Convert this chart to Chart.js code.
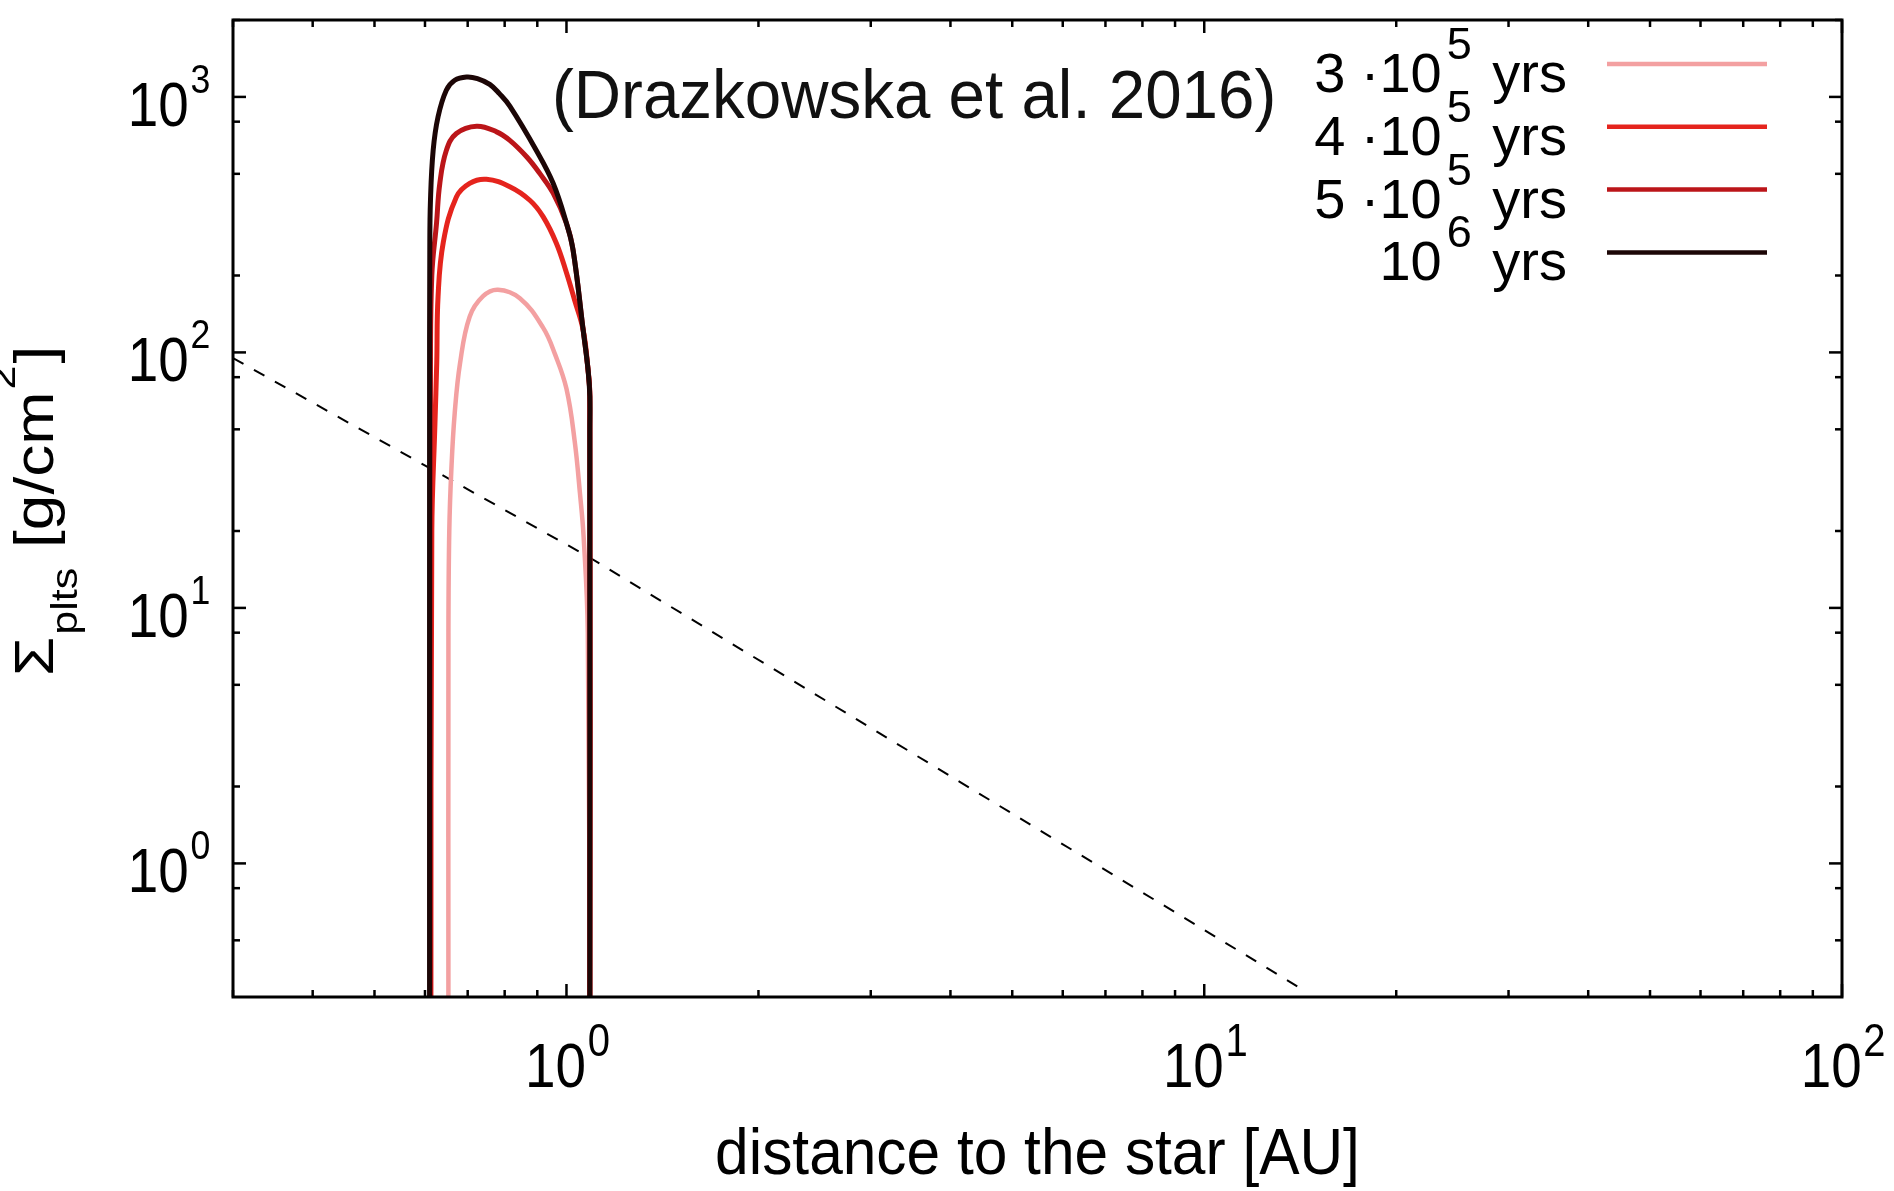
<!DOCTYPE html>
<html>
<head>
<meta charset="utf-8">
<title>Sigma plts vs distance</title>
<script src="https://cdn.jsdelivr.net/npm/chart.js@4.4.0/dist/chart.umd.min.js"></script>
<style>
    html, body { margin: 0; padding: 0; background: #fff; }
    #wrap { width: 1894px; height: 1191px; }
</style>
</head>
<body>
<div id="wrap"><canvas id="sigmaChart" width="1894" height="1191"></canvas></div>
<script>
"use strict";

//--series labels (^ = superscript, _ = subscript)--
const seriesLabels = ['3 ·10^5 yrs', '4 ·10^5 yrs', '5 ·10^5 yrs', '10^6 yrs'];
const seriesColors = ['#f3a0a1', '#e5241d', '#bb1519', '#1c0606'];

//3·10^5 yrs
const pinkX = [0.653, 0.653, 0.655, 0.66, 0.668, 0.681, 0.705, 0.74, 0.781, 0.845, 0.919, 0.96, 1.0, 1.03, 1.05, 1.064, 1.08, 1.088];
const pinkY = [0.2, 8, 20, 35, 57.9, 90.8, 138, 166, 176, 163, 125, 98, 72, 45, 28, 18.9, 8, 0.2];

//4·10^5 yrs
const redX = [0.613, 0.615, 0.622, 0.626, 0.629, 0.641, 0.672, 0.705, 0.749, 0.815, 0.876, 0.919, 0.9645, 1.0, 1.03, 1.062, 1.081, 1.088, 1.088];
const redY = [0.2, 20, 52.9, 90.8, 165.4, 270, 406, 459, 476, 445, 394, 340, 267, 205, 160, 122.6, 85.5, 67.2, 0.2];

//5·10^5 yrs
const darkX = [0.612, 0.612, 0.615, 0.6255, 0.633, 0.648, 0.672, 0.723, 0.777, 0.815, 0.866, 0.908, 0.953, 1.0, 1.024, 1.062, 1.081, 1.088, 1.088];
const darkY = [0.2, 80, 200, 320, 459, 617, 719, 768, 730, 676, 583, 502, 420, 320, 252, 122.6, 85.5, 67.2, 0.2];

//10^6 yrs
const blackX = [0.610, 0.610, 0.6105, 0.612, 0.618, 0.629, 0.648, 0.668, 0.697, 0.725, 0.758, 0.785, 0.815, 0.897, 0.953, 1.0, 1.024, 1.062, 1.081, 1.088, 1.088, 1.088];
const blackY = [0.2, 50, 252, 394, 618, 836, 1062, 1162, 1197, 1180, 1120, 1030, 920, 617, 459, 320, 252, 122.6, 85.5, 67.2, 49.8, 0.2];

//dashed reference profile
const refX = [0.3, 1.08, 14];
const refY = [95, 15.9, 0.33];

//--axes--
const xTickValues = [1, 10, 100];
const xTickLabels = ['10^0', '10^1', '10^2'];
const xMinorTicks = [0.3, 0.4, 0.5, 0.6, 0.7, 0.8, 0.9, 2, 3, 4, 5, 6, 7, 8, 9, 20, 30, 40, 50, 60, 70, 80, 90];
const yTickValues = [1, 10, 100, 1000];
const yTickLabels = ['10^0', '10^1', '10^2', '10^3'];
const yMinorTicks = [0.5, 0.8, 2, 5, 8, 20, 50, 80, 200, 500, 800, 2000];

const xTitle = 'distance to the star [AU]';
const yTitle = 'Σ_{plts} [g/cm^2]';
const note = '(Drazkowska et al. 2016)';

const FONT = '"Liberation Sans", Arial, sans-serif';

const toPoints = (xs, ys) => xs.map((x, i) => ({x: x, y: ys[i]}));

//"10^5" -> [{t:'10',k:'n'},{t:'5',k:'s'}]
function richParts(str) {
    const parts = [];
    const re = /([\^_])(\{[^}]*\}|.)|([^\^_]+)/g;
    let m;
    while ((m = re.exec(str)) !== null) {
        if (m[3]) {
            parts.push({t: m[3], k: 'n'});
        } else {
            parts.push({t: m[2].replace(/[{}]/g, ''), k: m[1] === '^' ? 's' : 'b'});
        }
    }
    return parts;
}

function drawRich(ctx, str, x, y, o) {
    const parts = richParts(str);
    const gap = o.gap || 0;
    const fontFor = k => (k === 'n' ? o.size : o.small) + 'px ' + (o.family || FONT);
    let w = 0;
    parts.forEach(p => {
        ctx.font = fontFor(p.k);
        p.w = ctx.measureText(p.t).width;
        w += p.w + (p.k !== 'n' ? 2 * gap : 0);
    });
    ctx.save();
    ctx.translate(x, y);
    ctx.scale(o.sx || 1, 1);
    if (o.rot) ctx.rotate(o.rot);
    ctx.textAlign = 'left';
    ctx.textBaseline = 'alphabetic';
    ctx.fillStyle = o.color || '#000';
    let cx = o.align === 'right' ? -w : (o.align === 'center' ? -w / 2 : 0);
    parts.forEach(p => {
        ctx.font = fontFor(p.k);
        if (p.k !== 'n') cx += gap;
        const dy = p.k === 's' ? -o.rise : (p.k === 'b' ? o.drop : 0);
        ctx.fillText(p.t, cx, dy);
        cx += p.w + (p.k !== 'n' ? gap : 0);
    });
    ctx.restore();
}

//枠・目盛り・文字
const framePlugin = {
    id: 'frame',
    beforeDraw(chart) {
        const ctx = chart.ctx;
        ctx.save();
        ctx.fillStyle = '#fff';
        ctx.fillRect(0, 0, chart.width, chart.height);
        ctx.restore();
    },
    afterDraw(chart) {
        const ctx = chart.ctx;
        const a = chart.chartArea;
        const xs = chart.scales.x;
        const ys = chart.scales.y;

        const seg = (x1, y1, x2, y2) => {
            ctx.beginPath();
            ctx.moveTo(x1, y1);
            ctx.lineTo(x2, y2);
            ctx.stroke();
        };

        ctx.save();
        ctx.strokeStyle = '#000';
        ctx.lineWidth = 2.5;
        const xTick = (v, len) => {
            const p = xs.getPixelForValue(v);
            seg(p, a.bottom, p, a.bottom - len);
            seg(p, a.top, p, a.top + len);
        };
        const yTick = (v, len) => {
            const p = ys.getPixelForValue(v);
            seg(a.left, p, a.left + len, p);
            seg(a.right, p, a.right - len, p);
        };
        xMinorTicks.forEach(v => xTick(v, 7));
        xTickValues.forEach(v => xTick(v, 13));
        yMinorTicks.forEach(v => yTick(v, 7));
        yTickValues.forEach(v => yTick(v, 13));

        ctx.lineWidth = 3;
        ctx.strokeRect(a.left, a.top, a.right - a.left, a.bottom - a.top);

        //tick labels
        xTickValues.forEach((v, i) => {
            drawRich(ctx, xTickLabels[i], xs.getPixelForValue(v) + 2, a.bottom + 90,
                {size: 63, small: 46, rise: 31, sx: 0.87, gap: 2, align: 'center'});
        });
        yTickValues.forEach((v, i) => {
            drawRich(ctx, yTickLabels[i], a.left - 21, ys.getPixelForValue(v) + 29,
                {size: 63, small: 41, rise: 33, sx: 0.87, gap: 2, align: 'right'});
        });

        //axis titles
        drawRich(ctx, xTitle, (a.left + a.right) / 2, 1174,
            {size: 64, small: 44, rise: 30, sx: 0.944, align: 'center'});
        drawRich(ctx, yTitle, 53, 511,
            {size: 64, small: 43, rise: 44, drop: 28, sx: 0.87, gap: 2, align: 'center', rot: -Math.PI / 2});

        //annotation
        drawRich(ctx, note, 552, 118, {size: 68, small: 40, rise: 30, sx: 0.963, align: 'left', color: '#111'});

        //凡例
        seriesLabels.forEach((lab, i) => {
            const ly = 64 + i * 62.8;
            drawRich(ctx, lab, 1567, ly + 28, {size: 56, small: 45, rise: 33, gap: 5, align: 'right'});
            ctx.strokeStyle = seriesColors[i];
            ctx.lineWidth = 4.5;
            seg(1607, ly, 1767, ly);
        });
        ctx.restore();
    }
};

const lineSet = (i, xs, ys, order) => ({
    label: seriesLabels[i],
    data: toPoints(xs, ys),
    borderColor: seriesColors[i],
    borderWidth: i === 0 ? 4.5 : 5,
    order: order,
});

const config = {
    type: 'line',
    data: {
        datasets: [
            lineSet(0, pinkX, pinkY, 3),
            lineSet(1, redX, redY, 2),
            lineSet(2, darkX, darkY, 1),
            lineSet(3, blackX, blackY, 0),
            {
                label: 'reference',
                data: toPoints(refX, refY),
                borderColor: '#000',
                borderWidth: 2,
                borderDash: [12, 12],
                tension: 0,
                order: 4,
            },
        ]
    },
    options: {
        responsive: false,
        animation: false,
        layout: {padding: {left: 233, right: 52, top: 20, bottom: 194}},
        elements: {
            point: {radius: 0, hoverRadius: 0},
            line: {tension: 0.4, borderCapStyle: 'butt', borderJoinStyle: 'round', fill: false},
        },
        scales: {
            x: {type: 'logarithmic', min: 0.3, max: 100, display: false},
            y: {type: 'logarithmic', min: 0.3, max: 2000, display: false},
        },
        plugins: {
            legend: {display: false},
            tooltip: {enabled: false},
        },
    },
    plugins: [framePlugin],
};

const sigmaChart = new Chart(document.getElementById('sigmaChart'), config);
</script>
</body>
</html>
